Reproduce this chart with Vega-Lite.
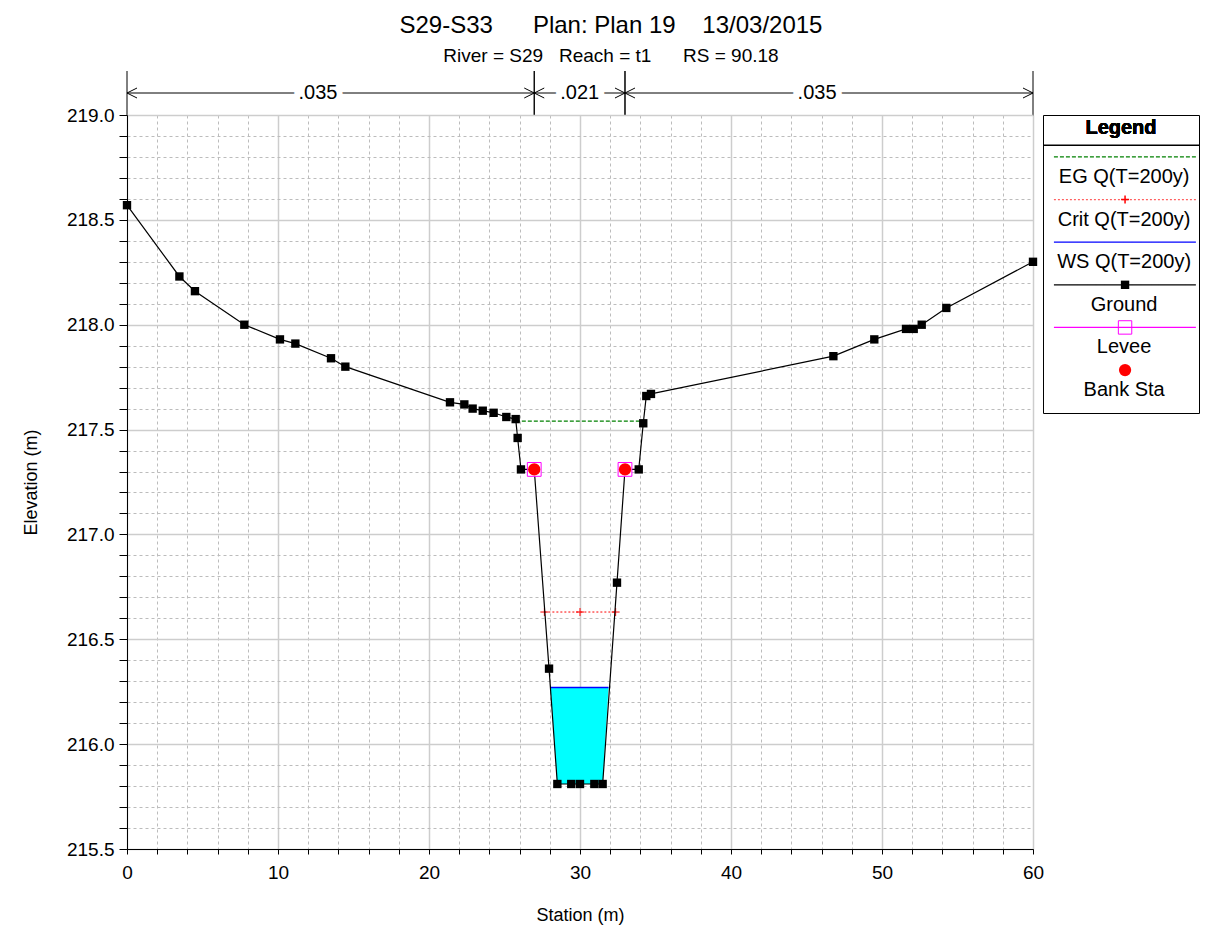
{
  "$schema": "https://vega.github.io/schema/vega-lite/v6.json",
  "background": "white",
  "padding": {"left": 21, "top": 13, "right": 5, "bottom": 5},
  "config": {"font": "Liberation Sans", "view": {"stroke": null}},
  "title": {
    "text": "S29-S33\u00a0\u00a0\u00a0\u00a0\u00a0\u00a0Plan: Plan 19\u00a0\u00a0\u00a0\u00a013/03/2015",
    "subtitle": "River = S29\u00a0\u00a0\u00a0Reach = t1\u00a0\u00a0\u00a0\u00a0\u00a0\u00a0RS = 90.18",
    "fontSize": 24, "subtitleFontSize": 19, "fontWeight": "normal",
    "color": "black", "subtitleColor": "black", "anchor": "middle",
    "subtitlePadding": 9, "offset": 5
  },
  "spacing": 0,
  "bounds": "flush",
  "vconcat": [
    {
      "width": 906, "height": 44,
      "data": {"values": [
        {"from": 0, "to": 26.97, "at": 12.65, "n": ".035"},
        {"from": 26.97, "to": 32.98, "at": 29.98, "n": ".021"},
        {"from": 32.98, "to": 60, "at": 45.7, "n": ".035"}
      ]},
      "layer": [
        {
          "mark": {"type": "rule", "color": "black", "strokeWidth": 1},
          "encoding": {
            "x": {"field": "from", "type": "quantitative", "scale": {"domain": [0, 60], "nice": false, "zero": false}, "axis": null},
            "x2": {"field": "to"},
            "y": {"datum": 0.5, "type": "quantitative", "scale": {"domain": [0, 1], "nice": false}, "axis": null}
          }
        },
        {
          "mark": {"type": "text", "fontSize": 20, "fill": "white", "stroke": "white", "strokeWidth": 12},
          "encoding": {
            "x": {"field": "at", "type": "quantitative", "axis": null},
            "y": {"datum": 0.5, "type": "quantitative", "axis": null},
            "text": {"field": "n"}
          }
        },
        {
          "mark": {"type": "text", "fontSize": 20, "color": "black"},
          "encoding": {
            "x": {"field": "at", "type": "quantitative", "axis": null},
            "y": {"datum": 0.5, "type": "quantitative", "axis": null},
            "text": {"field": "n"}
          }
        },
        {
          "mark": {"type": "rule", "color": "black", "strokeWidth": 1},
          "encoding": {"x": {"field": "from", "type": "quantitative", "axis": null}}
        },
        {
          "mark": {"type": "rule", "color": "black", "strokeWidth": 1},
          "encoding": {"x": {"field": "to", "type": "quantitative", "axis": null}}
        },
        {
          "mark": {"type": "point", "shape": "M2,-1L0,0L2,1", "size": 100, "filled": false, "stroke": "black", "strokeWidth": 1, "opacity": 1},
          "encoding": {
            "x": {"field": "from", "type": "quantitative", "axis": null},
            "y": {"datum": 0.5, "type": "quantitative", "axis": null}
          }
        },
        {
          "mark": {"type": "point", "shape": "M-2,-1L0,0L-2,1", "size": 100, "filled": false, "stroke": "black", "strokeWidth": 1, "opacity": 1},
          "encoding": {
            "x": {"field": "to", "type": "quantitative", "axis": null},
            "y": {"datum": 0.5, "type": "quantitative", "axis": null}
          }
        }
      ]
    },
    {
      "spacing": 10,
      "bounds": "flush",
      "hconcat": [
        {
          "width": 906, "height": 734,
          "view": {"stroke": "black", "strokeWidth": 1},
          "encoding": {
            "x": {
              "field": "s", "type": "quantitative",
              "scale": {"domain": [0, 60], "nice": false, "zero": false},
              "axis": {
                "title": "Station (m)", "titleFontSize": 18, "titleFontWeight": "normal", "titleColor": "black", "titlePadding": 24,
                "values": [0,2,4,6,8,10,12,14,16,18,20,22,24,26,28,30,32,34,36,38,40,42,44,46,48,50,52,54,56,58,60],
                "labelExpr": "datum.value % 10 === 0 ? datum.label : ''",
                "labelFontSize": 19, "labelColor": "black", "labelPadding": 9, "labelFlush": false, "labelOverlap": false,
                "tickSize": 5, "tickColor": "black", "domainColor": "black",
                "grid": true,
                "gridColor": {"condition": {"test": "datum.value % 10 === 0", "value": "#cdcdcd"}, "value": "#bcbcbc"},
                "gridDash": {"condition": {"test": "datum.value % 10 === 0", "value": []}, "value": [3, 3]},
                "gridWidth": {"condition": {"test": "datum.value % 10 === 0", "value": 1.5}, "value": 1}
              }
            },
            "y": {
              "field": "e", "type": "quantitative",
              "scale": {"domain": [215.5, 219.0], "nice": false, "zero": false},
              "axis": {
                "title": "Elevation (m)", "titleFontSize": 18, "titleFontWeight": "normal", "titleColor": "black", "titlePadding": 26,
                "values": [215.5,215.6,215.7,215.8,215.9,216.0,216.1,216.2,216.3,216.4,216.5,216.6,216.7,216.8,216.9,217.0,217.1,217.2,217.3,217.4,217.5,217.6,217.7,217.8,217.9,218.0,218.1,218.2,218.3,218.4,218.5,218.6,218.7,218.8,218.9,219.0],
                "format": ".1f",
                "labelExpr": "abs(datum.value * 2 - round(datum.value * 2)) < 0.0001 ? datum.label : ''",
                "labelFontSize": 19, "labelColor": "black", "labelPadding": 5, "labelFlush": false, "labelOverlap": false,
                "tickSize": 8, "tickColor": "black", "domainColor": "black",
                "grid": true,
                "gridColor": {"condition": {"test": "abs(datum.value * 2 - round(datum.value * 2)) < 0.0001", "value": "#cdcdcd"}, "value": "#bcbcbc"},
                "gridDash": {"condition": {"test": "abs(datum.value * 2 - round(datum.value * 2)) < 0.0001", "value": []}, "value": [3, 3]},
                "gridWidth": {"condition": {"test": "abs(datum.value * 2 - round(datum.value * 2)) < 0.0001", "value": 1.5}, "value": 1}
              }
            }
          },
          "layer": [
            {
              "data": {"values": [
                {"s": 28.05, "e": 216.27, "b": 216.27},
                {"s": 28.5, "e": 216.27, "b": 215.81},
                {"s": 31.5, "e": 216.27, "b": 215.81},
                {"s": 31.89, "e": 216.27, "b": 216.27}
              ]},
              "mark": {"type": "area", "color": "#00ffff", "opacity": 1, "interpolate": "linear"},
              "encoding": {"y2": {"field": "b"}}
            },
            {
              "data": {"values": [{"s": 28.05, "s2": 31.89, "e": 216.27}]},
              "mark": {"type": "rule", "color": "#0000ff", "strokeWidth": 1.5},
              "encoding": {"x2": {"field": "s2"}}
            },
            {
              "data": {"values": [{"s": 25.75, "s2": 34.2, "e": 217.54}]},
              "mark": {"type": "rule", "color": "#008000", "strokeWidth": 1.2, "strokeDash": [4, 2]},
              "encoding": {"x2": {"field": "s2"}}
            },
            {
              "data": {"values": [{"s": 27.64, "s2": 32.36, "e": 216.63}]},
              "mark": {"type": "rule", "color": "#ff0000", "strokeWidth": 1, "strokeDash": [2, 2]},
              "encoding": {"x2": {"field": "s2"}}
            },
            {
              "data": {"values": [{"s": 27.64, "e": 216.63}, {"s": 30.0, "e": 216.63}, {"s": 32.36, "e": 216.63}]},
              "mark": {"type": "point", "shape": "M-1,0L1,0M0,-1L0,1", "size": 64, "filled": false, "stroke": "#ff0000", "strokeWidth": 1, "opacity": 1}
            },
            {
              "data": {"name": "ground", "values": [
                {"s": 0, "e": 218.57}, {"s": 3.47, "e": 218.23}, {"s": 4.5, "e": 218.16}, {"s": 7.77, "e": 218.0},
                {"s": 10.13, "e": 217.93}, {"s": 11.15, "e": 217.91}, {"s": 13.51, "e": 217.84}, {"s": 14.46, "e": 217.8},
                {"s": 21.39, "e": 217.63}, {"s": 22.34, "e": 217.62}, {"s": 22.89, "e": 217.6}, {"s": 23.56, "e": 217.59},
                {"s": 24.28, "e": 217.58}, {"s": 25.12, "e": 217.56}, {"s": 25.74, "e": 217.55}, {"s": 25.87, "e": 217.46},
                {"s": 26.09, "e": 217.31}, {"s": 26.97, "e": 217.31}, {"s": 27.95, "e": 216.36}, {"s": 28.5, "e": 215.81},
                {"s": 29.42, "e": 215.81}, {"s": 30.0, "e": 215.81}, {"s": 30.95, "e": 215.81}, {"s": 31.5, "e": 215.81},
                {"s": 32.45, "e": 216.77}, {"s": 32.98, "e": 217.31}, {"s": 33.89, "e": 217.31}, {"s": 34.19, "e": 217.53},
                {"s": 34.39, "e": 217.66}, {"s": 34.7, "e": 217.67}, {"s": 46.78, "e": 217.85}, {"s": 49.49, "e": 217.93},
                {"s": 51.59, "e": 217.98}, {"s": 52.1, "e": 217.98}, {"s": 52.63, "e": 218.0}, {"s": 54.26, "e": 218.08},
                {"s": 60, "e": 218.3}
              ]},
              "mark": {"type": "line", "color": "black", "strokeWidth": 1.2}
            },
            {
              "data": {"name": "ground"},
              "mark": {"type": "point", "shape": "square", "size": 70, "filled": true, "color": "black", "opacity": 1}
            },
            {
              "data": {"values": [{"s": 26.97, "e": 217.31}, {"s": 32.98, "e": 217.31}]},
              "layer": [
                {"mark": {"type": "point", "shape": "square", "size": 190, "filled": true, "fill": "white", "stroke": "#ff00ff", "strokeWidth": 1, "opacity": 1}},
                {"mark": {"type": "point", "shape": "circle", "size": 150, "filled": true, "color": "#ff0000", "opacity": 1}}
              ]
            }
          ]
        },
        {
          "width": 156, "height": 298,
          "view": {"stroke": "black", "strokeWidth": 1, "fill": "white"},
          "data": {"values": [
            {"label": "EG Q(T=200y)", "k": 1},
            {"label": "Crit Q(T=200y)", "k": 2},
            {"label": "WS Q(T=200y)", "k": 3},
            {"label": "Ground", "k": 4},
            {"label": "Levee", "k": 5},
            {"label": "Bank Sta", "k": 6}
          ]},
          "layer": [
            {
              "mark": {"type": "text", "fontSize": 20, "fontWeight": "bold", "color": "black"},
              "encoding": {
                "x": {"datum": 0.5, "type": "quantitative", "scale": {"domain": [0, 1], "nice": false, "zero": false}, "axis": null},
                "y": {"datum": 0.33, "type": "quantitative", "scale": {"domain": [0.017, 7.007], "nice": false, "zero": false, "reverse": true}, "axis": null},
                "text": {"value": "Legend"}
              }
            },
            {
              "mark": {"type": "rule", "color": "black", "strokeWidth": 1},
              "encoding": {
                "x": {"datum": 0, "type": "quantitative", "axis": null},
                "x2": {"datum": 1},
                "y": {"datum": 0.73, "type": "quantitative", "axis": null}
              }
            },
            {
              "transform": [{"filter": "datum.label !== 'Bank Sta'"}],
              "mark": {"type": "rule", "strokeWidth": 1.2},
              "encoding": {
                "x": {"datum": 0.07, "type": "quantitative", "axis": null},
                "x2": {"datum": 0.98},
                "y": {"field": "k", "type": "quantitative", "axis": null},
                "color": {"field": "label", "type": "nominal", "legend": null,
                  "scale": {"domain": ["EG Q(T=200y)", "Crit Q(T=200y)", "WS Q(T=200y)", "Ground", "Levee"], "range": ["#008000", "#ff6060", "#0000ff", "#000000", "#ff00ff"]}},
                "strokeDash": {"field": "label", "type": "nominal", "legend": null,
                  "scale": {"domain": ["EG Q(T=200y)", "Crit Q(T=200y)", "WS Q(T=200y)", "Ground", "Levee"], "range": [[4, 2], [2, 2], [1, 0], [1, 0], [1, 0]]}}
              }
            },
            {
              "transform": [{"filter": "datum.label === 'Crit Q(T=200y)'"}],
              "mark": {"type": "point", "shape": "M-1,0L1,0M0,-1L0,1", "size": 64, "filled": false, "stroke": "#ff0000", "strokeWidth": 1.5, "opacity": 1},
              "encoding": {
                "x": {"datum": 0.526, "type": "quantitative", "axis": null},
                "y": {"field": "k", "type": "quantitative", "axis": null}
              }
            },
            {
              "transform": [{"filter": "datum.label === 'Ground'"}],
              "mark": {"type": "point", "shape": "square", "size": 70, "filled": true, "color": "black", "opacity": 1},
              "encoding": {
                "x": {"datum": 0.526, "type": "quantitative", "axis": null},
                "y": {"field": "k", "type": "quantitative", "axis": null}
              }
            },
            {
              "transform": [{"filter": "datum.label === 'Levee'"}],
              "mark": {"type": "point", "shape": "square", "size": 180, "filled": false, "stroke": "#ff00ff", "strokeWidth": 1, "opacity": 1},
              "encoding": {
                "x": {"datum": 0.526, "type": "quantitative", "axis": null},
                "y": {"field": "k", "type": "quantitative", "axis": null}
              }
            },
            {
              "transform": [{"filter": "datum.label === 'Bank Sta'"}],
              "mark": {"type": "point", "shape": "circle", "size": 150, "filled": true, "color": "#ff0000", "opacity": 1},
              "encoding": {
                "x": {"datum": 0.526, "type": "quantitative", "axis": null},
                "y": {"field": "k", "type": "quantitative", "axis": null}
              }
            },
            {
              "mark": {"type": "text", "fontSize": 20, "color": "black", "dy": 20},
              "encoding": {
                "x": {"datum": 0.52, "type": "quantitative", "axis": null},
                "y": {"field": "k", "type": "quantitative", "axis": null},
                "text": {"field": "label"}
              }
            }
          ]
        }
      ]
    }
  ]
}
